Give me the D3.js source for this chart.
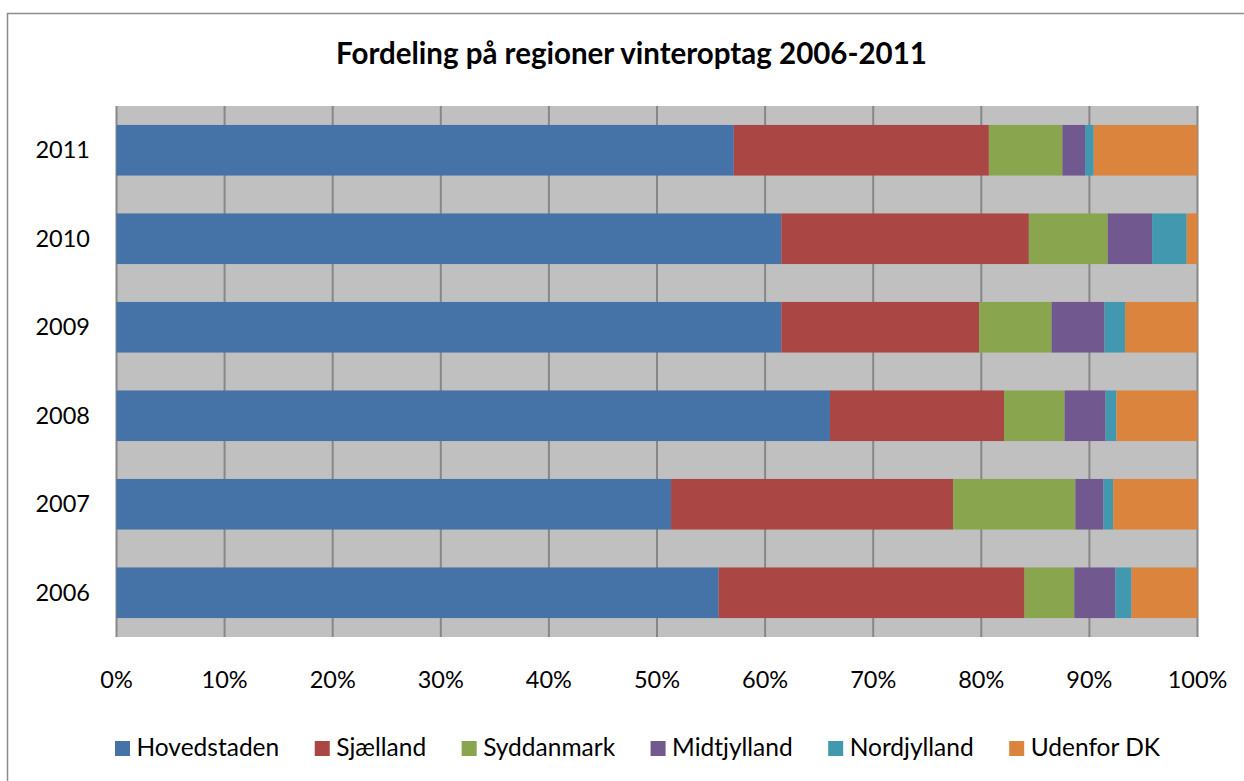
<!DOCTYPE html>
<html>
<head>
<meta charset="utf-8">
<script src="https://cdn.jsdelivr.net/npm/d3@7"></script>
<style>
  body { margin: 0; background: #fff; }
  svg { display: block; font-family: Lato, "Noto Sans", sans-serif; }
</style>
</head>
<body>
<svg width="1244" height="781"></svg>
<script>
// data (percent of each year's intake)
var years = ["2011", "2010", "2009", "2008", "2007", "2006"];
var regions = ["Hovedstaden", "Sjælland", "Syddanmark", "Midtjylland", "Nordjylland", "Udenfor DK"];
var hovedstaden = [57.1, 61.5, 61.5, 66.0, 51.3, 55.7];
var sjaelland   = [23.6, 22.9, 18.3, 16.1, 26.1, 28.3];
var syddanmark  = [6.8, 7.3, 6.7, 5.6, 11.3, 4.6];
var midtjylland = [2.1, 4.1, 4.9, 3.8, 2.6, 3.8];
var nordjylland = [0.8, 3.2, 1.9, 1.0, 0.9, 1.5];
var udenfor     = [9.6, 1.0, 6.7, 7.5, 7.8, 6.1];
var xTicks = [0, 10, 20, 30, 40, 50, 60, 70, 80, 90, 100];

var colors = ["#4572A7", "#AA4643", "#89A54E", "#71588F", "#4198AF", "#DB843D"];
var series = [hovedstaden, sjaelland, syddanmark, midtjylland, nordjylland, udenfor];

var data = years.map(function(y, i) {
  var d = {year: y};
  regions.forEach(function(r, j) { d[r] = series[j][i]; });
  return d;
});

var svg = d3.select("svg"),
    margin = {top: 106, right: 46.5, bottom: 144, left: 116.5},
    width = +svg.attr("width") - margin.left - margin.right,
    height = +svg.attr("height") - margin.top - margin.bottom;

// outer chart frame
svg.append("rect")
    .attr("x", 7.5).attr("y", 13.5)
    .attr("width", 1260).attr("height", 800)
    .attr("fill", "none")
    .attr("stroke", "#8c8c8c")
    .attr("stroke-width", 1.5);

svg.append("text")
    .attr("x", 631.5)
    .attr("y", 63.5)
    .attr("text-anchor", "middle")
    .attr("font-weight", "bold")
    .attr("font-size", 29.5)
    .attr("fill", "#000")
    .text("Fordeling på regioner vinteroptag 2006-2011");

var g = svg.append("g").attr("transform", "translate(" + margin.left + "," + margin.top + ")");

var x = d3.scaleLinear().domain([0, 100]).range([0, width]);
var y = d3.scaleBand().domain(years).range([0, height]).paddingInner(0.428).paddingOuter(0.214);
var yb = d3.scaleBand().domain(years).range([0, height]);

// plot background + gridlines
g.append("rect")
    .attr("width", width).attr("height", height)
    .attr("fill", "#C0C0C0");

g.append("g")
  .selectAll("line")
  .data(xTicks)
  .enter().append("line")
    .attr("x1", function(d) { return x(d); })
    .attr("x2", function(d) { return x(d); })
    .attr("y1", 0).attr("y2", height)
    .attr("stroke", "#878787")
    .attr("stroke-width", 2);

var stack = d3.stack().keys(regions)(data);

g.append("g")
  .selectAll("g")
  .data(stack)
  .enter().append("g")
    .attr("fill", function(d, i) { return colors[i]; })
  .selectAll("rect")
  .data(function(d) { return d; })
  .enter().append("rect")
    .attr("x", function(d) { return x(d[0]); })
    .attr("y", function(d) { return y(d.data.year); })
    .attr("width", function(d) { return x(d[1]) - x(d[0]); })
    .attr("height", y.bandwidth());

// x axis labels
g.append("g")
  .selectAll("text")
  .data(xTicks)
  .enter().append("text")
    .attr("x", function(d) { return x(d); })
    .attr("y", height + 51)
    .attr("text-anchor", "middle")
    .attr("font-size", 23.5)
    .attr("fill", "#000")
    .text(function(d) { return d + "%"; });

// y axis labels
g.append("g")
  .selectAll("text")
  .data(years)
  .enter().append("text")
    .attr("x", -26.5)
    .attr("y", function(d) { return yb(d) + yb.bandwidth() / 2; })
    .attr("dy", "0.35em")
    .attr("text-anchor", "end")
    .attr("font-size", 23.5)
    .attr("fill", "#000")
    .text(function(d) { return d; });

// legend
var legend = svg.append("g").attr("transform", "translate(115,741)");
var lx = 0;
regions.forEach(function(r, i) {
  var item = legend.append("g").attr("transform", "translate(" + lx + ",0)");
  item.append("rect")
      .attr("width", 15).attr("height", 15)
      .attr("fill", colors[i]);
  var t = item.append("text")
      .attr("x", 21.5)
      .attr("y", 14.5)
      .attr("font-size", 24.5)
      .attr("fill", "#000")
      .text(r);
  lx += 21.5 + t.node().getComputedTextLength() + 35.5;
});
</script>
</body>
</html>
